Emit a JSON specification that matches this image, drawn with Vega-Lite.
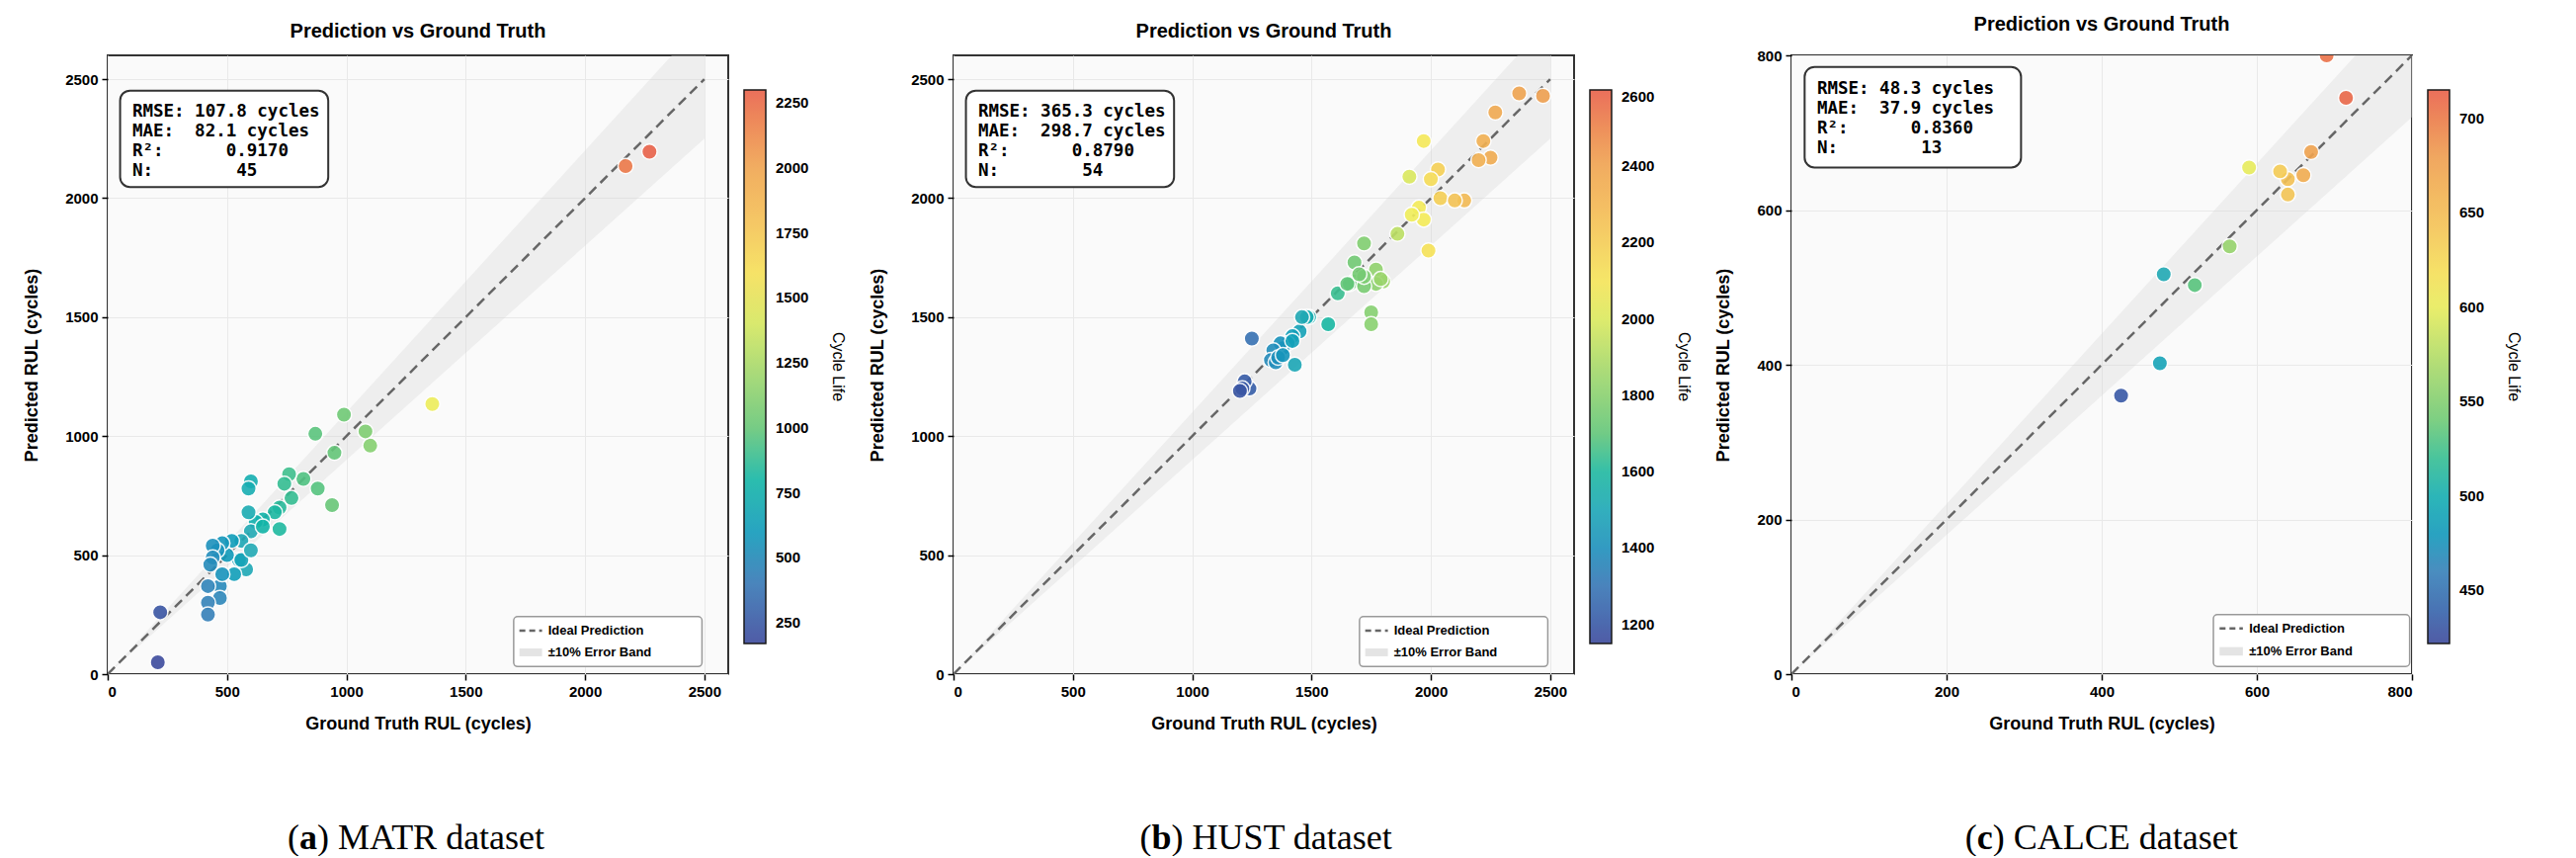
{
"$schema":"https://vega.github.io/schema/vega-lite/v6.json",
"padding":{"left":22,"top":14,"right":0,"bottom":0},
"background":"white",
"config":{
 "view":{"fill":"#fafafa","stroke":"#333333","strokeWidth":2},
 "axis":{"labelFont":"Liberation Sans","labelFontWeight":"bold","labelFontSize":15,"labelColor":"black","titleFont":"Liberation Sans","titleFontWeight":"bold","titleFontSize":18,"titleColor":"black","domain":false,"tickColor":"black","tickSize":6,"tickWidth":1.5,"gridColor":"#e9e9e9","gridWidth":1,"titlePadding":16,"labelPadding":4,"format":"d"},
 "title":{"font":"Liberation Sans","fontWeight":"bold","fontSize":20,"color":"black","offset":14},
 "legend":{"labelFont":"Liberation Sans","labelFontWeight":"bold","labelFontSize":15,"labelColor":"black","titleFont":"Liberation Sans","titleFontWeight":"bold","titleFontSize":16,"titleColor":"black"}
},
"datasets":{
 "a":[
 {"gt":2270,"pred":2195,"life":2290},{"gt":2170,"pred":2135,"life":2200},{"gt":1360,"pred":1135,"life":1480},{"gt":1100,"pred":960,"life":1110},{"gt":1080,"pred":1020,"life":1090},{"gt":990,"pred":1090,"life":1030},{"gt":940,"pred":710,"life":1000},{"gt":950,"pred":930,"life":990},{"gt":870,"pred":1010,"life":960},{"gt":880,"pred":780,"life":950},{"gt":820,"pred":820,"life":940},{"gt":760,"pred":840,"life":900},{"gt":770,"pred":740,"life":880},{"gt":720,"pred":700,"life":850},{"gt":720,"pred":610,"life":830},{"gt":740,"pred":800,"life":880},{"gt":700,"pred":680,"life":820},{"gt":650,"pred":650,"life":780},{"gt":620,"pred":640,"life":760},{"gt":600,"pred":810,"life":740},{"gt":590,"pred":780,"life":730},{"gt":590,"pred":680,"life":720},{"gt":600,"pred":600,"life":700},{"gt":560,"pred":560,"life":690},{"gt":580,"pred":440,"life":690},{"gt":550,"pred":480,"life":650},{"gt":530,"pred":420,"life":630},{"gt":520,"pred":560,"life":620},{"gt":500,"pred":500,"life":600},{"gt":480,"pred":550,"life":580},{"gt":460,"pred":520,"life":560},{"gt":440,"pred":540,"life":540},{"gt":440,"pred":490,"life":520},{"gt":430,"pred":460,"life":510},{"gt":470,"pred":370,"life":500},{"gt":470,"pred":320,"life":480},{"gt":420,"pred":370,"life":470},{"gt":420,"pred":300,"life":460},{"gt":420,"pred":250,"life":450},{"gt":220,"pred":260,"life":220},{"gt":210,"pred":50,"life":180},{"gt":560,"pred":480,"life":660},{"gt":480,"pred":420,"life":560},{"gt":650,"pred":620,"life":790},{"gt":600,"pred":520,"life":700}],
 "b":[
 {"gt":2470,"pred":2430,"life":2420},{"gt":2370,"pred":2440,"life":2400},{"gt":2270,"pred":2360,"life":2370},{"gt":2250,"pred":2170,"life":2360},{"gt":2220,"pred":2240,"life":2330},{"gt":2200,"pred":2160,"life":2330},{"gt":2140,"pred":1990,"life":2280},{"gt":1970,"pred":2240,"life":2080},{"gt":2030,"pred":2120,"life":2180},{"gt":2000,"pred":2080,"life":2130},{"gt":2040,"pred":2000,"life":2190},{"gt":1910,"pred":2090,"life":2000},{"gt":1950,"pred":1960,"life":2070},{"gt":1970,"pred":1910,"life":2070},{"gt":1990,"pred":1780,"life":2110},{"gt":1860,"pred":1850,"life":1930},{"gt":1720,"pred":1810,"life":1780},{"gt":1800,"pred":1650,"life":1850},{"gt":1770,"pred":1700,"life":1820},{"gt":1770,"pred":1640,"life":1810},{"gt":1680,"pred":1730,"life":1740},{"gt":1680,"pred":1650,"life":1730},{"gt":1660,"pred":1640,"life":1710},{"gt":1720,"pred":1630,"life":1760},{"gt":1720,"pred":1670,"life":1770},{"gt":1750,"pred":1520,"life":1790},{"gt":1750,"pred":1470,"life":1800},{"gt":1610,"pred":1600,"life":1640},{"gt":1570,"pred":1470,"life":1590},{"gt":1490,"pred":1500,"life":1540},{"gt":1480,"pred":1500,"life":1530},{"gt":1450,"pred":1440,"life":1480},{"gt":1430,"pred":1300,"life":1500},{"gt":1420,"pred":1420,"life":1460},{"gt":1400,"pred":1390,"life":1440},{"gt":1380,"pred":1370,"life":1420},{"gt":1370,"pred":1390,"life":1410},{"gt":1340,"pred":1360,"life":1390},{"gt":1330,"pred":1320,"life":1380},{"gt":1350,"pred":1310,"life":1390},{"gt":1250,"pred":1410,"life":1280},{"gt":1240,"pred":1200,"life":1220},{"gt":1220,"pred":1230,"life":1210},{"gt":1210,"pred":1200,"life":1200},{"gt":1200,"pred":1190,"life":1190},{"gt":1420,"pred":1400,"life":1470},{"gt":1460,"pred":1500,"life":1510},{"gt":1700,"pred":1680,"life":1750},{"gt":1790,"pred":1660,"life":1840},{"gt":1360,"pred":1330,"life":1400},{"gt":2100,"pred":1990,"life":2240},{"gt":1920,"pred":1930,"life":2050},{"gt":1380,"pred":1340,"life":1420},{"gt":1650,"pred":1640,"life":1700}],
 "c":[
 {"gt":690,"pred":800,"life":705},{"gt":715,"pred":745,"life":710},{"gt":670,"pred":675,"life":675},{"gt":660,"pred":645,"life":665},{"gt":640,"pred":640,"life":645},{"gt":630,"pred":650,"life":635},{"gt":640,"pred":620,"life":640},{"gt":590,"pred":655,"life":600},{"gt":565,"pred":553,"life":560},{"gt":520,"pred":503,"life":530},{"gt":480,"pred":517,"life":495},{"gt":475,"pred":402,"life":490},{"gt":425,"pred":360,"life":432}],
 "bandA":[{"x":0,"lo":0,"hi":0},{"x":2500,"lo":2250,"hi":2750}],
 "bandC":[{"x":0,"lo":0,"hi":0},{"x":800,"lo":720,"hi":880}]
},
"resolve":{"scale":{"x":"independent","y":"independent","color":"independent"},"legend":{"color":"independent"}},
"spacing":22,
"hconcat":[
{"spacing":88,"resolve":{"scale":{"x":"independent","y":"independent"}},"vconcat":[
 {"width":628,"height":626,"title":"Prediction vs Ground Truth",
  "layer":[
   {"data":{"name":"bandA"},"mark":{"type":"area","color":"#d6d6d6","opacity":0.35,"clip":true},
    "encoding":{"x":{"field":"x","type":"quantitative","scale":{"domain":[0,2500]},"axis":{"values":[0,500,1000,1500,2000,2500],"title":"Ground Truth RUL (cycles)"}},
     "y":{"field":"lo","type":"quantitative","scale":{"domain":[0,2500]},"axis":{"values":[0,500,1000,1500,2000,2500],"title":"Predicted RUL (cycles)","titlePadding":24}},"y2":{"field":"hi"}}},
   {"data":{"name":"bandA"},"mark":{"type":"line","color":"#666666","strokeDash":[10,6],"strokeWidth":2.5,"clip":true},
    "encoding":{"x":{"field":"x","type":"quantitative"},"y":{"field":"x","type":"quantitative"}}},
   {"data":{"name":"a"},"mark":{"type":"circle","size":240,"opacity":0.9,"stroke":"white","strokeWidth":1.5},
    "encoding":{"x":{"field":"gt","type":"quantitative"},"y":{"field":"pred","type":"quantitative"},
     "color":{"field":"life","type":"quantitative","scale":{"domain":[170,2300],"range":["#3e4a9c","#3a7fb8","#22aab5","#5fc57a","#a8d86a","#f4ef5a","#f4c456","#efa050","#e8604a"]},
      "legend":{"orient":"none","legendX":644,"legendY":35,"gradientLength":560,"gradientThickness":22,"gradientStrokeColor":"black","gradientStrokeWidth":1.5,"labelOffset":10,"format":"d","title":"Cycle Life","titleOrient":"right","titlePadding":22,"titleFontWeight":"normal","values":[250,500,750,1000,1250,1500,1750,2000,2250],"encode":{"title":{"update":{"angle":{"value":-90}}}}}}}},
   {"data":{"values":[{}]},"mark":{"type":"rect","fill":"white","stroke":"#333333","strokeWidth":2,"cornerRadius":10},
    "encoding":{"x":{"datum":52},"x2":{"datum":924},"y":{"datum":2452},"y2":{"datum":2047}}},
   {"data":{"values":[{}]},"mark":{"type":"text","align":"left","baseline":"top","font":"DejaVu Sans Mono","fontWeight":"bold","fontSize":17.5,"lineHeight":20},
    "encoding":{"x":{"datum":103},"y":{"datum":2400},"text":{"value":["RMSE: 107.8 cycles","MAE:\u00a0 82.1 cycles","R²:\u00a0\u00a0\u00a0\u00a0\u00a0 0.9170","N:\u00a0\u00a0\u00a0\u00a0\u00a0\u00a0\u00a0 45"]}}},
   {"data":{"values":[{}]},"mark":{"type":"rect","fill":"white","stroke":"#999999","strokeWidth":1.5,"cornerRadius":4},
    "encoding":{"x":{"datum":1701},"x2":{"datum":2490},"y":{"datum":242},"y2":{"datum":32}}},
   {"data":{"values":[{}]},"mark":{"type":"rule","color":"#666666","strokeDash":[6,4],"strokeWidth":2.5},
    "encoding":{"x":{"datum":1725},"x2":{"datum":1820},"y":{"datum":183}}},
   {"data":{"values":[{}]},"mark":{"type":"rect","fill":"#e4e4e4"},
    "encoding":{"x":{"datum":1725},"x2":{"datum":1820},"y":{"datum":75},"y2":{"datum":108}}},
   {"data":{"values":[{"t":"Ideal Prediction","yy":183},{"t":"±10% Error Band","yy":91}]},"mark":{"type":"text","align":"left","baseline":"middle","font":"Liberation Sans","fontWeight":"bold","fontSize":13},
    "encoding":{"x":{"datum":1845},"y":{"field":"yy","type":"quantitative"},"text":{"field":"t"}}}
  ]},
 {"width":628,"height":30,"view":{"stroke":null,"fill":null},"data":{"values":[{"p":"(","k":"a","r":") MATR dataset"}]},
  "encoding":{"x":{"datum":0.29,"scale":{"domain":[0,1]},"axis":null},"y":{"datum":0.5,"scale":{"domain":[0,1]},"axis":null}},
  "layer":[
   {"mark":{"type":"text","font":"Liberation Serif","fontSize":36,"baseline":"middle","align":"left"},"encoding":{"text":{"field":"p"}}},
   {"mark":{"type":"text","font":"Liberation Serif","fontSize":36,"fontWeight":"bold","baseline":"middle","align":"left","dx":12},"encoding":{"text":{"field":"k"}}},
   {"mark":{"type":"text","font":"Liberation Serif","fontSize":36,"baseline":"middle","align":"left","dx":30},"encoding":{"text":{"field":"r"}}}
  ]}
]},
{"spacing":88,"resolve":{"scale":{"x":"independent","y":"independent"}},"vconcat":[
 {"width":628,"height":626,"title":"Prediction vs Ground Truth",
  "layer":[
   {"data":{"name":"bandA"},"mark":{"type":"area","color":"#d6d6d6","opacity":0.35,"clip":true},
    "encoding":{"x":{"field":"x","type":"quantitative","scale":{"domain":[0,2500]},"axis":{"values":[0,500,1000,1500,2000,2500],"title":"Ground Truth RUL (cycles)"}},
     "y":{"field":"lo","type":"quantitative","scale":{"domain":[0,2500]},"axis":{"values":[0,500,1000,1500,2000,2500],"title":"Predicted RUL (cycles)","titlePadding":24}},"y2":{"field":"hi"}}},
   {"data":{"name":"bandA"},"mark":{"type":"line","color":"#666666","strokeDash":[10,6],"strokeWidth":2.5,"clip":true},
    "encoding":{"x":{"field":"x","type":"quantitative"},"y":{"field":"x","type":"quantitative"}}},
   {"data":{"name":"b"},"mark":{"type":"circle","size":240,"opacity":0.9,"stroke":"white","strokeWidth":1.5},
    "encoding":{"x":{"field":"gt","type":"quantitative"},"y":{"field":"pred","type":"quantitative"},
     "color":{"field":"life","type":"quantitative","scale":{"domain":[1150,2600],"range":["#3e4a9c","#3a7fb8","#22aab5","#5fc57a","#a8d86a","#f4ef5a","#f4c456","#efa050","#e8604a"]},
      "legend":{"orient":"none","legendX":644,"legendY":35,"gradientLength":560,"gradientThickness":22,"gradientStrokeColor":"black","gradientStrokeWidth":1.5,"labelOffset":10,"format":"d","title":"Cycle Life","titleOrient":"right","titlePadding":22,"titleFontWeight":"normal","values":[1200,1400,1600,1800,2000,2200,2400,2600],"encode":{"title":{"update":{"angle":{"value":-90}}}}}}}},
   {"data":{"values":[{}]},"mark":{"type":"rect","fill":"white","stroke":"#333333","strokeWidth":2,"cornerRadius":10},
    "encoding":{"x":{"datum":52},"x2":{"datum":924},"y":{"datum":2452},"y2":{"datum":2047}}},
   {"data":{"values":[{}]},"mark":{"type":"text","align":"left","baseline":"top","font":"DejaVu Sans Mono","fontWeight":"bold","fontSize":17.5,"lineHeight":20},
    "encoding":{"x":{"datum":103},"y":{"datum":2400},"text":{"value":["RMSE: 365.3 cycles","MAE:\u00a0 298.7 cycles","R²:\u00a0\u00a0\u00a0\u00a0\u00a0 0.8790","N:\u00a0\u00a0\u00a0\u00a0\u00a0\u00a0\u00a0 54"]}}},
   {"data":{"values":[{}]},"mark":{"type":"rect","fill":"white","stroke":"#999999","strokeWidth":1.5,"cornerRadius":4},
    "encoding":{"x":{"datum":1701},"x2":{"datum":2490},"y":{"datum":242},"y2":{"datum":32}}},
   {"data":{"values":[{}]},"mark":{"type":"rule","color":"#666666","strokeDash":[6,4],"strokeWidth":2.5},
    "encoding":{"x":{"datum":1725},"x2":{"datum":1820},"y":{"datum":183}}},
   {"data":{"values":[{}]},"mark":{"type":"rect","fill":"#e4e4e4"},
    "encoding":{"x":{"datum":1725},"x2":{"datum":1820},"y":{"datum":75},"y2":{"datum":108}}},
   {"data":{"values":[{"t":"Ideal Prediction","yy":183},{"t":"±10% Error Band","yy":91}]},"mark":{"type":"text","align":"left","baseline":"middle","font":"Liberation Sans","fontWeight":"bold","fontSize":13},
    "encoding":{"x":{"datum":1845},"y":{"field":"yy","type":"quantitative"},"text":{"field":"t"}}}
  ]},
 {"width":628,"height":30,"view":{"stroke":null,"fill":null},"data":{"values":[{"p":"(","k":"b","r":") HUST dataset"}]},
  "encoding":{"x":{"datum":0.30,"scale":{"domain":[0,1]},"axis":null},"y":{"datum":0.5,"scale":{"domain":[0,1]},"axis":null}},
  "layer":[
   {"mark":{"type":"text","font":"Liberation Serif","fontSize":36,"baseline":"middle","align":"left"},"encoding":{"text":{"field":"p"}}},
   {"mark":{"type":"text","font":"Liberation Serif","fontSize":36,"fontWeight":"bold","baseline":"middle","align":"left","dx":12},"encoding":{"text":{"field":"k"}}},
   {"mark":{"type":"text","font":"Liberation Serif","fontSize":36,"baseline":"middle","align":"left","dx":32},"encoding":{"text":{"field":"r"}}}
  ]}
]},
{"spacing":88,"resolve":{"scale":{"x":"independent","y":"independent"}},"vconcat":[
 {"width":628,"height":626,"title":"Prediction vs Ground Truth",
  "layer":[
   {"data":{"name":"bandC"},"mark":{"type":"area","color":"#d6d6d6","opacity":0.35,"clip":true},
    "encoding":{"x":{"field":"x","type":"quantitative","scale":{"domain":[0,800]},"axis":{"values":[0,200,400,600,800],"title":"Ground Truth RUL (cycles)"}},
     "y":{"field":"lo","type":"quantitative","scale":{"domain":[0,800]},"axis":{"values":[0,200,400,600,800],"title":"Predicted RUL (cycles)","titlePadding":24}},"y2":{"field":"hi"}}},
   {"data":{"name":"bandC"},"mark":{"type":"line","color":"#666666","strokeDash":[10,6],"strokeWidth":2.5,"clip":true},
    "encoding":{"x":{"field":"x","type":"quantitative"},"y":{"field":"x","type":"quantitative"}}},
   {"data":{"name":"c"},"mark":{"type":"circle","size":240,"opacity":0.9,"stroke":"white","strokeWidth":1.5,"clip":true},
    "encoding":{"x":{"field":"gt","type":"quantitative"},"y":{"field":"pred","type":"quantitative"},
     "color":{"field":"life","type":"quantitative","scale":{"domain":[422,715],"range":["#3e4a9c","#3a7fb8","#22aab5","#5fc57a","#a8d86a","#f4ef5a","#f4c456","#efa050","#e8604a"]},
      "legend":{"orient":"none","legendX":644,"legendY":35,"gradientLength":560,"gradientThickness":22,"gradientStrokeColor":"black","gradientStrokeWidth":1.5,"labelOffset":10,"format":"d","title":"Cycle Life","titleOrient":"right","titlePadding":22,"titleFontWeight":"normal","values":[450,500,550,600,650,700],"encode":{"title":{"update":{"angle":{"value":-90}}}}}}}},
   {"data":{"values":[{}]},"mark":{"type":"rect","fill":"white","stroke":"#333333","strokeWidth":2,"cornerRadius":10},
    "encoding":{"x":{"datum":17},"x2":{"datum":296},"y":{"datum":785},"y2":{"datum":655}}},
   {"data":{"values":[{}]},"mark":{"type":"text","align":"left","baseline":"top","font":"DejaVu Sans Mono","fontWeight":"bold","fontSize":17.5,"lineHeight":20},
    "encoding":{"x":{"datum":33},"y":{"datum":768},"text":{"value":["RMSE: 48.3 cycles","MAE:\u00a0 37.9 cycles","R²:\u00a0\u00a0\u00a0\u00a0\u00a0 0.8360","N:\u00a0\u00a0\u00a0\u00a0\u00a0\u00a0\u00a0 13"]}}},
   {"data":{"values":[{}]},"mark":{"type":"rect","fill":"white","stroke":"#999999","strokeWidth":1.5,"cornerRadius":4},
    "encoding":{"x":{"datum":544},"x2":{"datum":797},"y":{"datum":77},"y2":{"datum":10}}},
   {"data":{"values":[{}]},"mark":{"type":"rule","color":"#666666","strokeDash":[6,4],"strokeWidth":2.5},
    "encoding":{"x":{"datum":552},"x2":{"datum":582},"y":{"datum":59}}},
   {"data":{"values":[{}]},"mark":{"type":"rect","fill":"#e4e4e4"},
    "encoding":{"x":{"datum":552},"x2":{"datum":582},"y":{"datum":24},"y2":{"datum":35}}},
   {"data":{"values":[{"t":"Ideal Prediction","yy":59},{"t":"±10% Error Band","yy":29}]},"mark":{"type":"text","align":"left","baseline":"middle","font":"Liberation Sans","fontWeight":"bold","fontSize":13},
    "encoding":{"x":{"datum":590},"y":{"field":"yy","type":"quantitative"},"text":{"field":"t"}}}
  ]},
 {"width":628,"height":30,"view":{"stroke":null,"fill":null},"data":{"values":[{"p":"(","k":"c","r":") CALCE dataset"}]},
  "encoding":{"x":{"datum":0.28,"scale":{"domain":[0,1]},"axis":null},"y":{"datum":0.5,"scale":{"domain":[0,1]},"axis":null}},
  "layer":[
   {"mark":{"type":"text","font":"Liberation Serif","fontSize":36,"baseline":"middle","align":"left"},"encoding":{"text":{"field":"p"}}},
   {"mark":{"type":"text","font":"Liberation Serif","fontSize":36,"fontWeight":"bold","baseline":"middle","align":"left","dx":12},"encoding":{"text":{"field":"k"}}},
   {"mark":{"type":"text","font":"Liberation Serif","fontSize":36,"baseline":"middle","align":"left","dx":28},"encoding":{"text":{"field":"r"}}}
  ]}
]}
]
}
